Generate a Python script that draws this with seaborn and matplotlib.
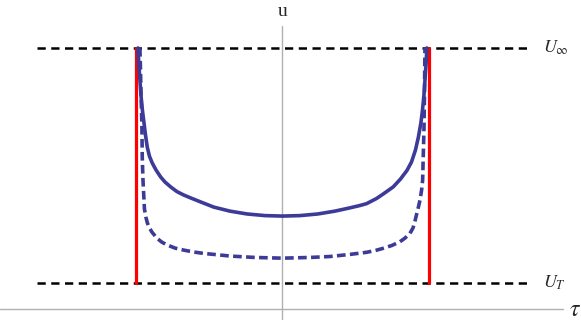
import numpy as np
import pandas as pd
import matplotlib
matplotlib.use('Agg')
import matplotlib.pyplot as plt
import seaborn as sns

# уровни и границы
u_inf = 1.0
u_t = 0.0
tau_wall = [-1.0, 1.0]
ref_span = [-1.676, 1.676]

# сплошная кривая
tau_solid = [-0.986, -0.980, -0.973, -0.966, -0.956, -0.945, -0.935, -0.923, -0.908, -0.889,
             -0.863, -0.831, -0.802, -0.763, -0.720, -0.672, -0.618, -0.558, -0.468, -0.358,
             -0.242, -0.119, 0.0, 0.119, 0.242, 0.358, 0.461, 0.529, 0.575, 0.643,
             0.688, 0.756, 0.805, 0.850, 0.881, 0.908, 0.928, 0.945, 0.956, 0.966,
             0.973, 0.980, 0.986]
u_solid = [1.000, 0.928, 0.864, 0.800, 0.736, 0.681, 0.630, 0.579, 0.540, 0.511,
           0.481, 0.451, 0.430, 0.409, 0.389, 0.374, 0.360, 0.345, 0.323, 0.306,
           0.294, 0.287, 0.285, 0.287, 0.294, 0.306, 0.320, 0.330, 0.338, 0.360,
           0.379, 0.409, 0.442, 0.479, 0.515, 0.566, 0.621, 0.681, 0.736, 0.800,
           0.864, 0.928, 1.000]

# пунктирная кривая
tau_dash = [-0.973, -0.969, -0.966, -0.962, -0.959, -0.957, -0.952, -0.945, -0.942, -0.932,
            -0.922, -0.911, -0.891, -0.855, -0.823, -0.786, -0.734, -0.672, -0.604, -0.536,
            -0.468, -0.358, -0.188, 0.0, 0.188, 0.324, 0.461, 0.575, 0.631, 0.688,
            0.747, 0.802, 0.836, 0.870, 0.891, 0.904, 0.918, 0.928, 0.939, 0.950,
            0.957, 0.961, 0.966, 0.968, 0.970, 0.971, 0.973]
u_dash = [1.000, 0.906, 0.821, 0.736, 0.651, 0.536, 0.438, 0.353, 0.315, 0.280,
          0.256, 0.238, 0.217, 0.190, 0.174, 0.162, 0.149, 0.140, 0.132, 0.126,
          0.122, 0.115, 0.109, 0.106, 0.109, 0.113, 0.122, 0.131, 0.138, 0.148,
          0.160, 0.176, 0.191, 0.211, 0.234, 0.262, 0.298, 0.323, 0.353, 0.396,
          0.438, 0.536, 0.651, 0.736, 0.821, 0.906, 1.000]

solid = pd.DataFrame({'tau': tau_solid, 'u': u_solid})
dash = pd.DataFrame({'tau': tau_dash, 'u': u_dash})

sns.set_style('white')
plt.rcParams['mathtext.fontset'] = 'stix'

fig = plt.figure(figsize=(5.81, 3.20), dpi=100)
ax = fig.add_axes([0, 0, 1, 1])
ax.set_xlim(-1.928, 2.038)
ax.set_ylim(-0.157, 1.204)
ax.axis('off')

blue = '#3d3b98'

# оси
ax.plot([-1.928, 1.914], [-0.111, -0.111], color='#b0b0b0', lw=1.0, zorder=1)
ax.plot([0.0, 0.0], [-0.157, 1.094], color='#b0b0b0', lw=1.0, zorder=1)

# горизонтальные пунктиры
for lvl in (u_inf, u_t):
    ax.plot(ref_span, [lvl, lvl], color='black', lw=1.8, ls=(0, (3.3, 2.2)), zorder=2)

# красные стенки
for w in tau_wall:
    ax.plot([w, w], [u_t, u_inf], color='#ff0000', lw=2.3, zorder=3)

sns.lineplot(data=solid, x='tau', y='u', sort=False, color=blue, lw=2.6, ax=ax, zorder=4)
sns.lineplot(data=dash, x='tau', y='u', sort=False, color=blue, lw=2.6, ax=ax, zorder=4,
             linestyle=(0, (2.4, 1.2)))

ax.text(1.78, u_inf, r'$U_\infty$', fontsize=13, ha='left', va='center')
ax.text(1.78, u_t, r'$U_T$', fontsize=13, ha='left', va='center')
ax.text(0.0, 1.155, 'u', fontsize=14, ha='center', va='center', family='Liberation Serif')
ax.text(2.0, -0.111, r'$\tau$', fontsize=17, ha='center', va='center')

fig.savefig('out.png', dpi=100)
